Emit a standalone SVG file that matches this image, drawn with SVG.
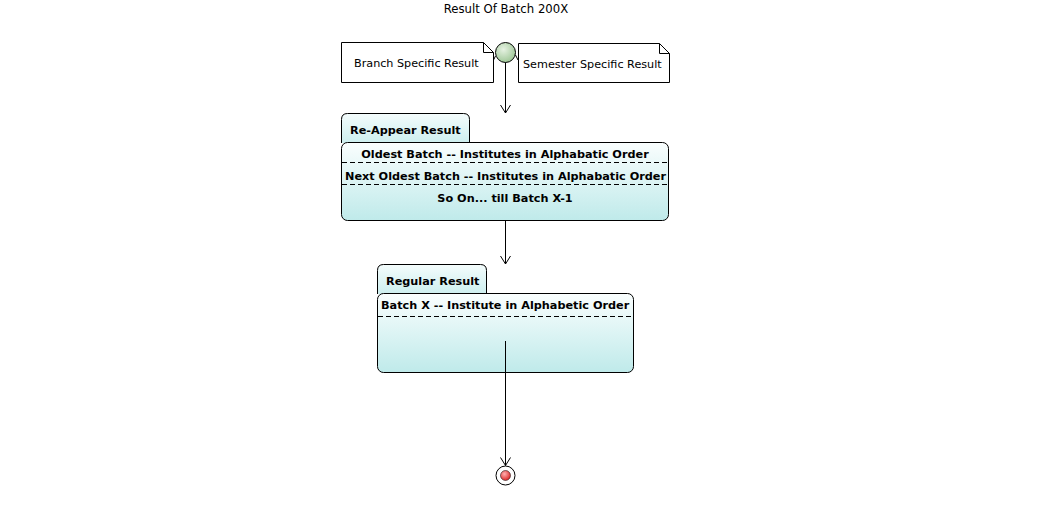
<svg xmlns="http://www.w3.org/2000/svg" width="1039" height="528" viewBox="0 0 1039 528">
<defs>
<linearGradient id="pkg" x1="0" y1="0" x2="0" y2="1">
<stop offset="0" stop-color="#fafefe"/>
<stop offset="1" stop-color="#bfeaea"/>
</linearGradient>
<linearGradient id="tab" x1="0" y1="0" x2="0" y2="1">
<stop offset="0" stop-color="#f4fcfc"/>
<stop offset="1" stop-color="#cdefef"/>
</linearGradient>
<radialGradient id="start" cx="0.4" cy="0.35" r="0.7">
<stop offset="0" stop-color="#e6f2e2"/>
<stop offset="1" stop-color="#9cc594"/>
</radialGradient>
<radialGradient id="endg" cx="0.4" cy="0.35" r="0.7">
<stop offset="0" stop-color="#ffb0b0"/>
<stop offset="1" stop-color="#d82020"/>
</radialGradient>
<marker id="arr" markerWidth="12" markerHeight="12" refX="11" refY="6" orient="auto" markerUnits="userSpaceOnUse" viewBox="0 0 12 12">
<path d="M3,1 L11,6 L3,11" fill="none" stroke="#000" stroke-width="1"/>
</marker>
</defs>
<style>
text{font-family:"DejaVu Sans",sans-serif;fill:#000}
.t{font-size:11.7px}
.n{font-size:11.2px}
.b{font-size:11.25px;font-weight:bold}
.note{fill:#fff;stroke:#000;stroke-width:1}
.box{fill:url(#pkg);stroke:#000;stroke-width:1}
.tb{fill:url(#tab);stroke:#000;stroke-width:1}
.dash{stroke:#000;stroke-width:1;stroke-dasharray:5,3;fill:none}
.ln{stroke:#000;stroke-width:1;fill:none}
</style>
<rect width="1039" height="528" fill="#fff"/>
<text class="t" x="506" y="13" text-anchor="middle">Result Of Batch 200X</text>

<g id="note-branch">
<path class="note" d="M341.5,42.5 H483.5 L493.5,52.5 V82.5 H341.5 Z"/>
<path class="ln" d="M483.5,42.5 V52.5 H493.5"/>
<text class="n" x="354" y="67">Branch Specific Result</text>
</g>
<g id="note-semester">
<path class="note" d="M518.5,43.5 H659.5 L669.5,53.5 V82.5 H518.5 Z"/>
<path class="ln" d="M659.5,43.5 V53.5 H669.5"/>
<text class="n" x="523" y="68">Semester Specific Result</text>
</g>
<g id="start-node">
<circle cx="505.5" cy="52.5" r="10" fill="url(#start)" stroke="#000" stroke-width="1"/>
</g>

<g id="reappear">
<path class="tb" d="M341.5,143 V119.5 Q341.5,113.5 347.5,113.5 H463.5 Q469.5,113.5 469.5,119.5 V143"/>
<text class="b" x="350" y="134">Re-Appear Result</text>
<rect class="box" x="341.5" y="142.5" width="327" height="78" rx="6"/>
<text class="b" x="505" y="157.5" text-anchor="middle">Oldest Batch -- Institutes in Alphabatic Order</text>
<line class="dash" x1="342" y1="162.5" x2="668" y2="162.5"/>
<text class="b" x="505.5" y="179.5" text-anchor="middle">Next Oldest Batch -- Institutes in Alphabatic Order</text>
<line class="dash" x1="342" y1="184.5" x2="668" y2="184.5"/>
<text class="b" x="505" y="201.5" text-anchor="middle">So On... till Batch X-1</text>
</g>

<g id="regular">
<path class="tb" d="M377.5,294 V270.5 Q377.5,264.5 383.5,264.5 H480.5 Q486.5,264.5 486.5,270.5 V294"/>
<text class="b" x="386" y="285">Regular Result</text>
<rect class="box" x="377.5" y="293.5" width="256" height="79" rx="6"/>
<text class="b" x="381" y="308.5">Batch X -- Institute in Alphabetic Order</text>
<line class="dash" x1="378" y1="316.5" x2="633" y2="316.5"/>
</g>

<g id="end-node">
<circle cx="505.5" cy="475.5" r="9.5" fill="#fff" stroke="#000" stroke-width="1"/>
<circle cx="505.5" cy="475.5" r="5" fill="url(#endg)" stroke="#000" stroke-width="0.5"/>
</g>

<g id="connectors">
<line class="ln" x1="505.5" y1="62.5" x2="505.5" y2="113" marker-end="url(#arr)"/>
<line class="ln" x1="505.5" y1="220.5" x2="505.5" y2="264" marker-end="url(#arr)"/>
<line class="ln" x1="505.5" y1="341" x2="505.5" y2="465.5" marker-end="url(#arr)"/>
<path class="ln" d="M493.5,60 L495.5,56"/>
<path class="ln" d="M515.5,55 L518,60"/>
</g>
</svg>
